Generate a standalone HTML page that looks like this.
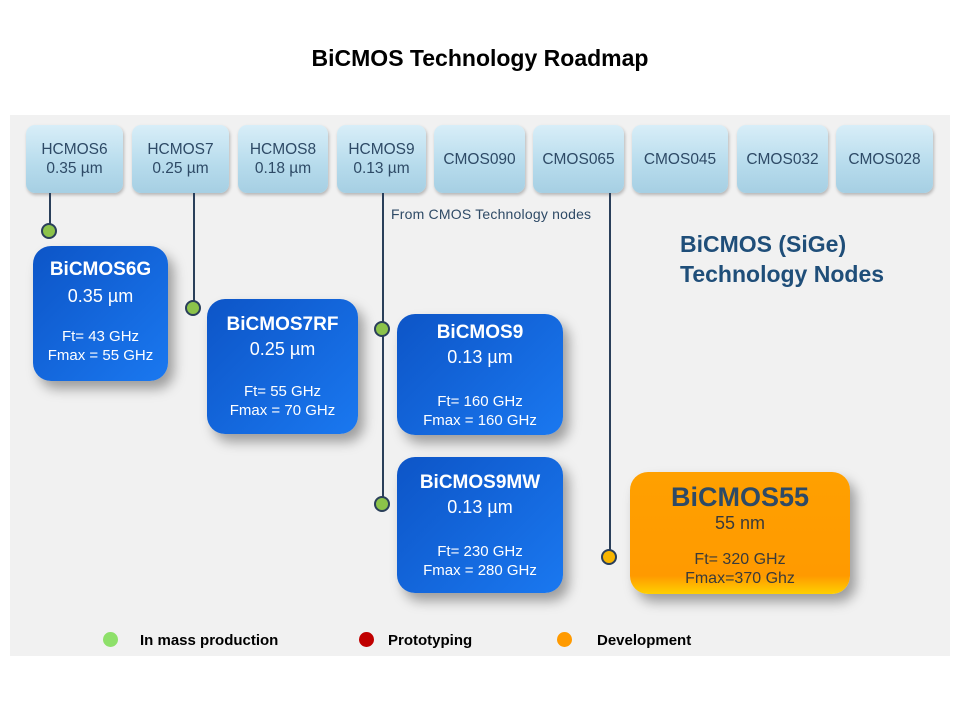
<!DOCTYPE html>
<html><head><meta charset="utf-8"><style>
body{margin:0;width:960px;height:720px;background:#fff;position:relative;font-family:"Liberation Sans",sans-serif;overflow:hidden}
.a{position:absolute}
.panel{left:10px;top:115px;width:940px;height:541px;background:#f1f1f1}
.t{position:absolute;left:0;width:960px;top:45px;text-align:center;font-weight:bold;font-size:23px;color:#000}
.hb{position:absolute;top:125px;height:68px;border-radius:9px;background:linear-gradient(#d8eef8,#b6dbec 60%,#a6cfe3);box-shadow:1px 2px 3px rgba(0,0,0,.25);color:#2e4a66;font-size:15.5px;display:flex;align-items:center;justify-content:center;text-align:center;line-height:19px}
.ln{position:absolute;width:1.5px;background:#2a3f5a}
.dot{position:absolute;width:12px;height:12px;border-radius:50%;background:#8cc34a;border:2.5px solid #2a3f5a;box-sizing:content-box}
.bb{position:absolute;border-radius:18px;background:linear-gradient(135deg,#0d55c7,#1a78f0);box-shadow:6px 8px 12px rgba(0,0,0,.35);color:#fff;text-align:center;font-size:15px;line-height:19px}
.bb b{font-size:19px;display:block;line-height:22px}
.bb .s{display:block;font-size:18px;line-height:26px}
.bb .g{display:block;height:20px}
.lg{position:absolute;top:632px;font-weight:bold;font-size:15px}
.ld{position:absolute;top:632px;width:15px;height:15px;border-radius:50%}
</style></head><body>
<div class="a panel"></div>
<div class="t">BiCMOS Technology Roadmap</div>
<div class="hb" style="left:26px;width:97px">HCMOS6<br>0.35 µm</div>
<div class="hb" style="left:132px;width:97px">HCMOS7<br>0.25 µm</div>
<div class="hb" style="left:238px;width:90px">HCMOS8<br>0.18 µm</div>
<div class="hb" style="left:337px;width:89px">HCMOS9<br>0.13 µm</div>
<div class="hb" style="left:434px;width:91px">CMOS090</div>
<div class="hb" style="left:533px;width:91px">CMOS065</div>
<div class="hb" style="left:632px;width:96px">CMOS045</div>
<div class="hb" style="left:737px;width:91px">CMOS032</div>
<div class="hb" style="left:836px;width:97px">CMOS028</div>
<div class="ln" style="left:49px;top:193px;height:32px"></div>
<div class="ln" style="left:193px;top:193px;height:110px"></div>
<div class="ln" style="left:382px;top:193px;height:312px"></div>
<div class="ln" style="left:609px;top:193px;height:358px"></div>
<div class="a" style="left:391px;top:206px;font-size:14px;letter-spacing:.2px;color:#2e4a66">From CMOS Technology nodes</div>
<div class="a" style="left:680px;top:229px;font-size:23px;font-weight:bold;color:#1f4e79;line-height:30px">BiCMOS (SiGe)<br>Technology Nodes</div>
<div class="bb" style="left:33px;top:246px;width:135px;height:135px"><b style="margin-top:13px">BiCMOS6G</b><span class="s" style="line-height:30px">0.35 µm</span><span class="g" style="height:16px"></span>Ft= 43 GHz<br>Fmax = 55 GHz</div>
<div class="bb" style="left:207px;top:299px;width:151px;height:135px"><b style="margin-top:15px">BiCMOS7RF</b><span class="s">0.25 µm</span><span class="g"></span>Ft= 55 GHz<br>Fmax = 70 GHz</div>
<div class="bb" style="left:397px;top:314px;width:166px;height:121px"><b style="margin-top:8px">BiCMOS9</b><span class="s">0.13 µm</span><span class="g" style="height:22px"></span>Ft= 160 GHz<br>Fmax = 160 GHz</div>
<div class="bb" style="left:397px;top:457px;width:166px;height:136px"><b style="margin-top:15px">BiCMOS9MW</b><span class="s">0.13 µm</span><span class="g" style="height:22px"></span>Ft= 230 GHz<br>Fmax = 280 GHz</div>
<div class="bb" style="left:630px;top:472px;width:220px;height:122px;background:linear-gradient(#ffa000,#ff9a00 85%,#ffd000);color:#3a3a3a;font-size:16px"><b style="font-size:27px;margin-top:10px;line-height:30px;color:#2e4a66">BiCMOS55</b><span class="s" style="font-size:18px;line-height:22px">55 nm</span><span class="g" style="height:16px"></span>Ft= 320 GHz<br>Fmax=370 Ghz</div>
<div class="dot" style="left:41px;top:223px"></div>
<div class="dot" style="left:185px;top:300px"></div>
<div class="dot" style="left:374px;top:321px"></div>
<div class="dot" style="left:374px;top:496px"></div>
<div class="dot" style="left:601px;top:549px;background:#f7b500"></div>
<div class="ld" style="left:103px;background:#8ee06a"></div><div class="lg" style="left:140px">In mass production</div>
<div class="ld" style="left:359px;background:#c00000"></div><div class="lg" style="left:388px">Prototyping</div>
<div class="ld" style="left:557px;background:#ff9a00"></div><div class="lg" style="left:597px">Development</div>
</body></html>
